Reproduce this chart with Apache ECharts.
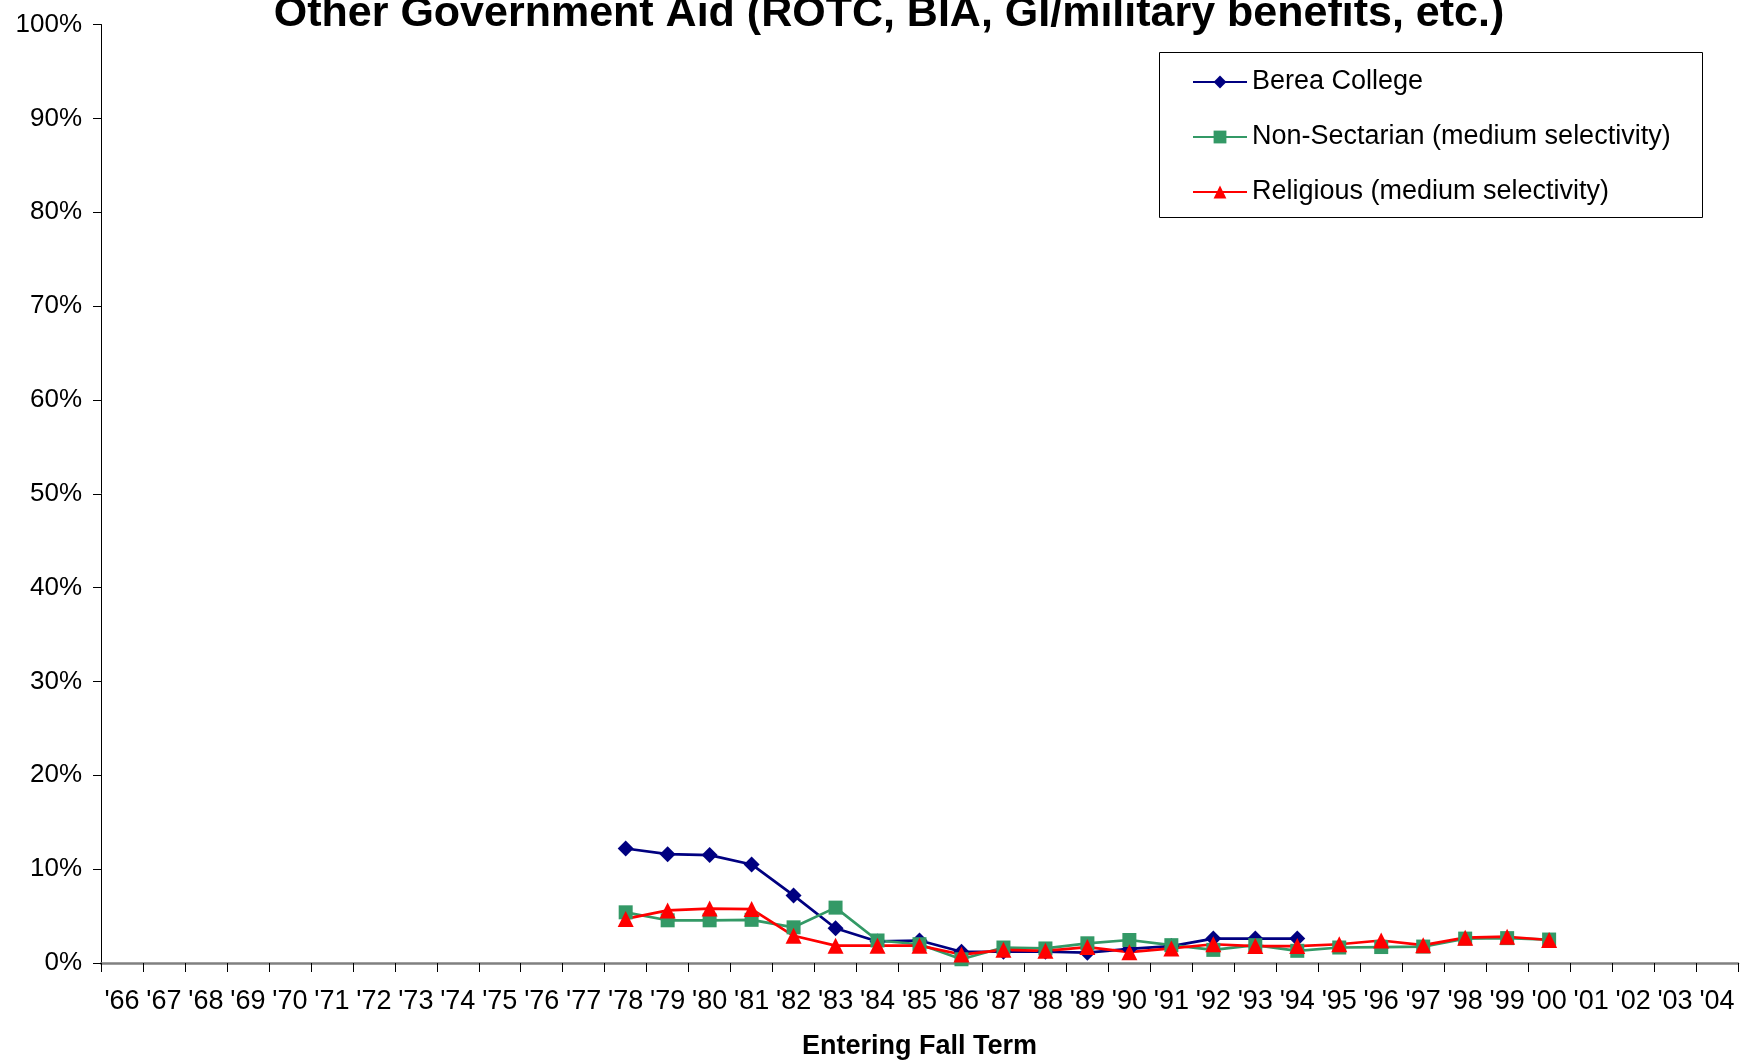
<!DOCTYPE html>
<html>
<head>
<meta charset="utf-8">
<script src="https://cdn.jsdelivr.net/npm/echarts@6/dist/echarts.min.js"></script>
<style>
html,body{margin:0;padding:0;background:#fff;}
#c{width:1741px;height:1060px;}
</style>
</head>
<body>
<div id="c"></div>
<script>
const titleText = "Other Government Aid (ROTC, BIA, GI/military benefits, etc.)";
const xAxisName = "Entering Fall Term";
const categories = ["'66","'67","'68","'69","'70","'71","'72","'73","'74","'75","'76","'77","'78","'79","'80","'81","'82","'83","'84","'85","'86","'87","'88","'89","'90","'91","'92","'93","'94","'95","'96","'97","'98","'99","'00","'01","'02","'03","'04"];
const seriesNames = ["Berea College", "Non-Sectarian (medium selectivity)", "Religious (medium selectivity)"];
// values in percent, '66 .. '04 (null = no data)
const bereaValues = [null,null,null,null,null,null,null,null,null,null,null,null,
  12.2,11.6,11.5,10.5,7.2,3.7,2.3,2.4,1.2,1.2,1.2,1.1,1.5,1.8,2.6,2.6,2.6,
  null,null,null,null,null,null,null,null,null,null];
const nonSectarianValues = [null,null,null,null,null,null,null,null,null,null,null,null,
  5.4,4.55,4.55,4.6,3.8,5.9,2.4,2.0,0.4,1.65,1.55,2.1,2.45,1.9,1.4,1.9,1.3,1.65,1.7,1.75,2.6,2.65,2.5,
  null,null,null,null];
const religiousValues = [null,null,null,null,null,null,null,null,null,null,null,null,
  4.7,5.6,5.8,5.75,2.9,1.85,1.85,1.85,0.9,1.4,1.3,1.7,1.15,1.55,2.0,1.8,1.8,2.0,2.4,1.9,2.7,2.8,2.45,
  null,null,null,null];

const FONT = "'Liberation Sans', Arial, sans-serif";
const chart = echarts.init(document.getElementById('c'), null, {renderer:'canvas'});

function lineSeries(name, data, color, symbol, size){
  return {
    name: name, type: 'line', data: data,
    symbol: symbol, symbolSize: size,
    lineStyle: {color: color, width: 2.7},
    itemStyle: {color: color},
    connectNulls: false,
    animation: false
  };
}

chart.setOption({
  backgroundColor: '#ffffff',
  animation: false,
  title: {
    text: titleText,
    left: 884, top: -12, textAlign: 'center',
    textStyle: {fontFamily: FONT, fontWeight: 'bold', fontSize: 43, color: '#000'}
  },
  legend: {
    orient: 'vertical',
    left: 1159, top: 52,
    padding: [15, 10, 10, 33],
    itemWidth: 54, itemHeight: 16,
    itemGap: 25,
    textStyle: {fontFamily: FONT, fontSize: 27, color: '#000', lineHeight: 30, padding: [0,0,0,0]},
    data: seriesNames
  },
  graphic: [{
    type: 'rect', z: 100,
    shape: {x: 1159.5, y: 52.5, width: 543, height: 165},
    style: {fill: 'none', stroke: '#000', lineWidth: 1}
  }],
  grid: {left: 101, right: 3, top: 24.5, bottom: 97, containLabel: false, outerBoundsMode: 'none'},
  xAxis: {
    type: 'category', data: categories, boundaryGap: true,
    name: xAxisName, nameLocation: 'middle', nameGap: 70,
    nameTextStyle: {fontFamily: FONT, fontWeight: 'bold', fontSize: 27, color: '#000'},
    axisLine: {lineStyle: {color: '#808080', width: 2.5}},
    axisTick: {show: true, inside: false, length: 9, alignWithLabel: false, interval: 0, lineStyle: {color: '#000', width: 1}},
    axisLabel: {interval: 0, margin: 25, fontFamily: FONT, fontSize: 27, color: '#000'},
    splitLine: {show: false}
  },
  yAxis: {
    type: 'value', min: 0, max: 100, interval: 10,
    axisLine: {show: true, lineStyle: {color: '#000', width: 1}},
    axisTick: {show: true, length: 8, lineStyle: {color: '#000', width: 1}},
    axisLabel: {formatter: '{value}%', margin: 19, fontFamily: FONT, fontSize: 26, color: '#000'},
    splitLine: {show: false}
  },
  series: [
    lineSeries(seriesNames[0], bereaValues, '#000080', 'diamond', 16),
    lineSeries(seriesNames[1], nonSectarianValues, '#339966', 'rect', 14),
    lineSeries(seriesNames[2], religiousValues, '#ff0000', 'triangle', 16)
  ]
});
</script>
</body>
</html>
